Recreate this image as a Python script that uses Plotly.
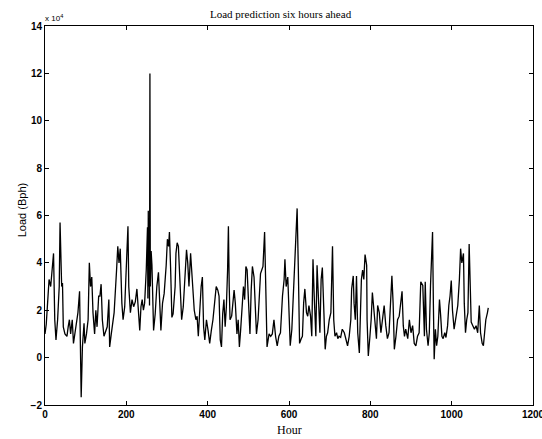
import plotly.graph_objects as go

# Hours (x) and load values in units of 1e4 Bph (y)
hours = [
    0, 3, 6, 10, 14, 18, 21, 24, 27, 31, 35, 37, 41, 43, 45, 49, 54, 57, 60, 63,
    67, 70, 73, 77, 81, 85, 88, 89, 92, 96, 98, 102, 106, 109, 112, 115, 118, 122, 125, 128,
    132, 135, 138, 141, 145, 149, 153, 157, 159, 163, 167, 170, 176, 179, 182, 185, 189, 192, 196, 200,
    204, 206, 210, 214, 218, 222, 226, 229, 233, 236, 239, 242, 245, 249, 250, 252, 253, 254, 255, 256,
    257, 258, 259, 261, 263, 267, 271, 275, 279, 281, 285, 289, 293, 298, 301, 304, 306, 309, 312, 315,
    320, 322, 325, 328, 332, 336, 340, 345, 348, 351, 354, 358, 361, 364, 367, 371, 374, 377, 380, 384,
    387, 390, 393, 397, 401, 405, 409, 413, 417, 421, 425, 428, 431, 434, 437, 440, 443, 446, 449, 451,
    453, 455, 459, 462, 465, 468, 472, 475, 478, 481, 485, 488, 491, 494, 497, 501, 504, 507, 510, 514,
    517, 520, 524, 527, 530, 533, 536, 540, 543, 546, 551, 555, 559, 563, 567, 571, 575, 579, 584, 588,
    590, 593, 597, 600, 603, 607, 610, 613, 616, 620, 623, 626, 630, 633, 636, 639, 643, 646, 649, 653,
    656, 659, 662, 666, 669, 672, 676, 679, 682, 685, 689, 692, 695, 699, 703, 707, 710, 713, 717, 720,
    723, 727, 731, 736, 740, 744, 748, 752, 754, 758, 760, 763, 766, 769, 773, 776, 778, 781, 784, 787,
    791, 792, 795, 799, 802, 805, 809, 812, 815, 818, 822, 826, 830, 834, 838, 842, 846, 850, 853, 856,
    859, 863, 867, 871, 875, 878, 881, 884, 887, 892, 896, 900, 904, 908, 912, 916, 920, 924, 929, 933,
    935, 938, 942, 945, 948, 951, 953, 955, 957, 960, 963, 966, 970, 973, 976, 979, 983, 986, 990, 993,
    996, 999, 1002, 1006, 1009, 1012, 1015, 1019, 1022, 1025, 1029, 1031, 1034, 1037, 1040, 1043, 1045, 1048, 1052, 1056,
    1060, 1064, 1068, 1071, 1075, 1078, 1081, 1084, 1088, 1090,
]
load_e4 = [
    1.0, 1.4, 2.2, 3.3, 3.0, 4.0, 4.4, 1.6, 0.75, 1.6, 3.0, 5.7, 3.0, 3.15, 1.3, 1.0, 0.9, 1.3, 1.6, 1.0,
    1.6, 0.6, 1.0, 1.45, 1.9, 2.8, 0.45, -1.67, 0.45, 1.45, 0.6, 1.0, 1.6, 4.0, 3.0, 3.4, 1.9, 1.0, 2.0, 1.3,
    2.6, 2.6, 3.1, 1.6, 0.9, 1.15, 1.3, 2.45, 0.45, 1.0, 1.45, 1.9, 3.7, 4.7, 4.0, 4.6, 2.3, 1.6, 2.15, 3.7,
    5.55, 3.0, 1.9, 2.45, 2.15, 2.35, 2.9, 2.15, 1.15, 2.15, 2.45, 2.0, 2.3, 3.7, 4.1, 5.5, 2.5, 6.2, 3.0, 5.8,
    2.2, 12.0, 3.0, 4.5, 3.9, 1.15, 1.85, 3.0, 3.6, 2.45, 1.15, 2.3, 2.7, 3.9, 5.0, 4.7, 5.3, 3.7, 1.7, 1.85,
    3.0, 4.4, 4.85, 4.7, 3.15, 1.6, 2.15, 3.85, 4.55, 4.0, 3.0, 4.4, 3.4, 2.85, 2.0, 1.6, 1.75, 0.9, 1.85, 3.0,
    3.4, 1.3, 0.75, 1.6, 1.15, 0.6, 1.15, 1.6, 2.3, 3.0, 2.85, 2.6, 0.75, 0.45, 1.85, 2.45, 1.3, 2.15, 3.7, 5.55,
    3.0, 1.6, 1.75, 2.45, 2.85, 2.3, 1.0, 1.6, 0.45, 1.15, 2.15, 3.0, 2.45, 3.85, 3.7, 2.15, 1.0, 2.85, 3.85, 3.4,
    1.85, 1.0, 1.6, 3.0, 3.55, 3.7, 3.85, 5.3, 3.3, 0.45, 1.0, 0.9, 1.0, 1.6, 0.9, 0.5, 0.9, 1.05, 2.6, 3.3,
    4.15, 3.0, 3.4, 1.6, 0.5, 1.2, 2.3, 3.7, 5.0, 6.3, 3.7, 0.6, 0.8, 0.9, 2.3, 2.9, 1.9, 1.75, 2.2, 1.75,
    0.9, 4.15, 2.6, 0.9, 3.9, 2.3, 1.05, 3.3, 3.8, 2.3, 0.35, 0.9, 1.05, 1.6, 1.9, 4.7, 1.6, 0.9, 1.05, 0.8,
    0.9, 0.85, 1.2, 1.05, 0.8, 0.5, 0.9, 1.6, 2.9, 3.45, 2.3, 1.6, 3.45, 1.05, 0.2, 2.0, 3.3, 3.7, 3.3, 4.35,
    3.9, 1.6, 0.07, 0.9, 1.6, 2.75, 1.9, 1.2, 0.8, 2.2, 1.9, 1.05, 1.6, 2.2, 1.35, 0.8, 1.05, 2.45, 3.45, 2.3,
    0.35, 0.9, 1.6, 1.75, 2.3, 2.8, 1.35, 0.9, 1.2, 0.8, 1.6, 1.05, 1.35, 0.6, 0.5, 0.9, 1.05, 3.2, 3.05, 0.9,
    3.2, 1.2, 0.5, 1.05, 3.05, 5.0, 5.3, 2.3, -0.07, 1.2, 0.5, 0.9, 2.45, 1.75, 0.9, 0.8, 1.05, 0.85, 1.35, 2.2,
    2.6, 3.25, 2.0, 1.2, 1.6, 1.9, 2.2, 3.3, 4.6, 4.0, 4.4, 2.3, 1.05, 1.6, 1.9, 4.8, 3.7, 1.5, 1.35, 1.2,
    1.35, 1.05, 2.2, 1.05, 0.6, 0.5, 1.05, 1.6, 1.9, 2.1,
]

x_ticks = [0, 200, 400, 600, 800, 1000, 1200]
y_ticks = [-2, 0, 2, 4, 6, 8, 10, 12, 14]

fig = go.Figure()
fig.add_trace(go.Scatter(x=hours, y=load_e4, mode="lines",
                         line=dict(color="black", width=1.3), showlegend=False,
                         hoverinfo="skip"))

axis_common = dict(showline=True, linecolor="black", linewidth=1, mirror="ticks",
                   ticks="inside", ticklen=4, tickcolor="black", showgrid=False,
                   zeroline=False, automargin=False, ticklabeloverflow="allow",
                   tickfont=dict(family="Liberation Sans", size=10, color="black", weight="bold"))

fig.update_layout(
    width=542, height=439,
    margin=dict(l=45, r=9, t=26, b=34),
    paper_bgcolor="white", plot_bgcolor="white",
    xaxis=dict(range=[0, 1200], tickvals=x_ticks, **axis_common),
    yaxis=dict(range=[-2, 14], tickvals=y_ticks, **axis_common),
    annotations=[
        dict(text="Load prediction six hours ahead", xref="paper", yref="paper",
             x=0.4836, y=1.032, xanchor="center", yanchor="middle", showarrow=False,
             font=dict(family="Liberation Serif", size=11, color="black")),
        dict(text="x 10<sup>4</sup>", xref="paper", yref="paper",
             x=-0.004, y=1.022, xanchor="left", yanchor="middle", showarrow=False,
             font=dict(family="Liberation Sans", size=8, color="black")),
        dict(text="Hour", xref="paper", yref="paper",
             x=0.5, y=-0.066, xanchor="center", yanchor="middle", showarrow=False,
             font=dict(family="Liberation Serif", size=12, color="black")),
        dict(text="Load (Bph)", xref="paper", yref="paper", textangle=-90,
             x=-0.047, y=0.514, xanchor="center", yanchor="middle", showarrow=False,
             font=dict(family="Liberation Sans", size=11, color="black")),
    ],
)

fig.write_html("out.html", config={"displayModeBar": False},
               post_script="document.body.style.margin='0';document.body.style.overflow='hidden';")
